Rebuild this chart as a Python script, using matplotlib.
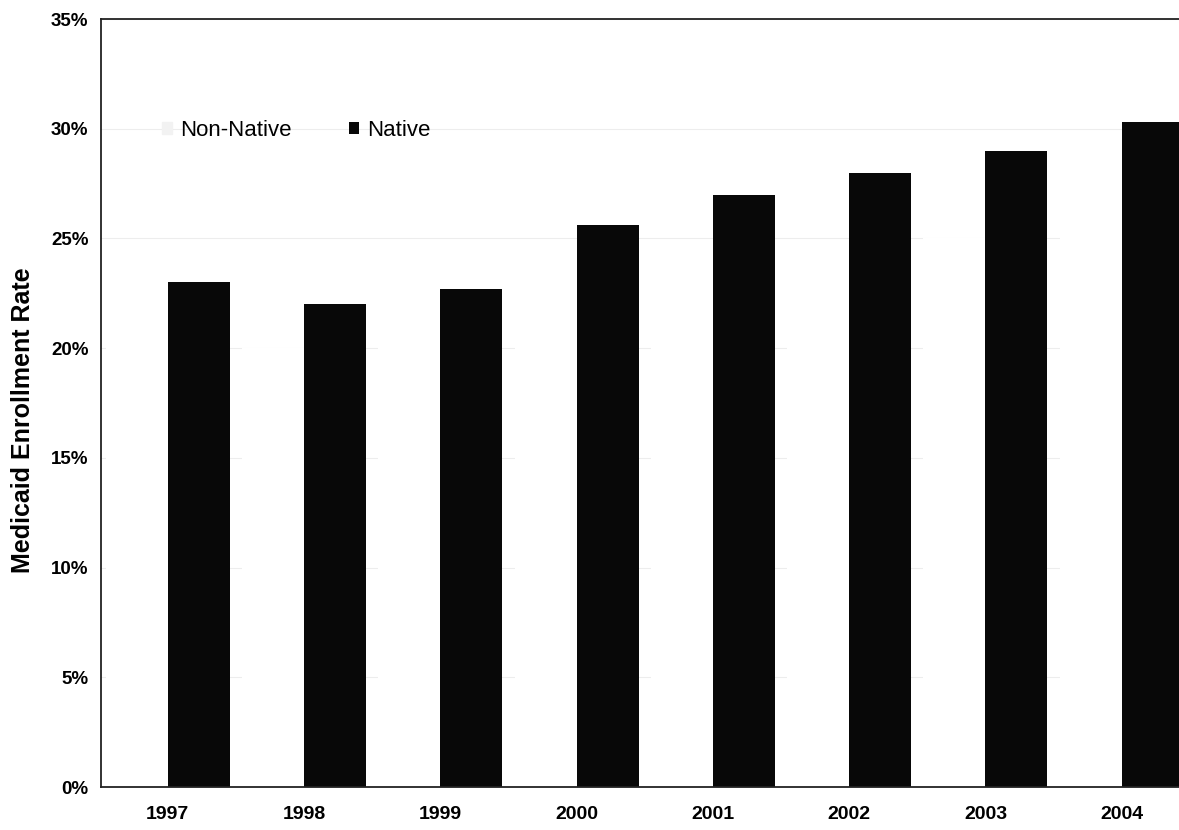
import numpy as np
import matplotlib.pyplot as plt
from matplotlib.ticker import PercentFormatter

years = ["1997", "1998", "1999", "2000", "2001", "2002", "2003", "2004"]
# non-native bars are washed out to white in the scan; values are rough guesses
non_native = [20.5, 20.0, 20.8, 22.5, 23.5, 24.0, 25.0, 26.0]
native = [23.0, 22.0, 22.7, 25.6, 27.0, 28.0, 29.0, 30.3]

plt.rcParams['font.family'] = ['Liberation Sans', 'DejaVu Sans']

fig = plt.figure(figsize=(11.79, 8.30), dpi=100)
ax = fig.add_axes([101 / 1179, 1 - 787 / 830, (1179 - 101) / 1179, (787 - 19) / 830])

x = np.arange(len(years))
w = 0.455
ax.bar(x - w / 2, non_native, w, color="#ffffff", label="Non-Native", zorder=2)
ax.bar(x + w / 2, native, w, color="#080808", label="Native", zorder=2)

ax.set_xlim(-0.49, 7.42)
ax.set_ylim(0, 35)
ax.set_yticks(np.arange(0, 36, 5))
ax.yaxis.set_major_formatter(PercentFormatter(decimals=0))
ax.set_xticks(x)
ax.set_xticklabels(years)
ax.tick_params(axis="y", length=0, labelsize=13.5, pad=9)
ax.tick_params(axis="x", length=0, labelsize=14, pad=14)
for lab in ax.get_xticklabels() + ax.get_yticklabels():
    lab.set_fontweight("bold")

ax.grid(axis="y", color="#ededed", linewidth=0.8, zorder=0)
ax.spines["right"].set_visible(False)
for s in ["left", "bottom", "top"]:
    ax.spines[s].set_color("#222222")
    ax.spines[s].set_linewidth(1.3)

ax.set_ylabel("Medicaid Enrollment Rate", fontsize=18, fontweight="bold")
ax.yaxis.set_label_coords(-0.061, 0.477)

leg = ax.legend(loc="upper left", bbox_to_anchor=(0.038, 0.895), ncol=2, frameon=False,
                fontsize=16, handlelength=0.45, handleheight=0.45, handletextpad=0.35,
                columnspacing=2.6)
leg.legend_handles[0].set_color("#f2f2f2")

fig.savefig("out.png", dpi=100)
